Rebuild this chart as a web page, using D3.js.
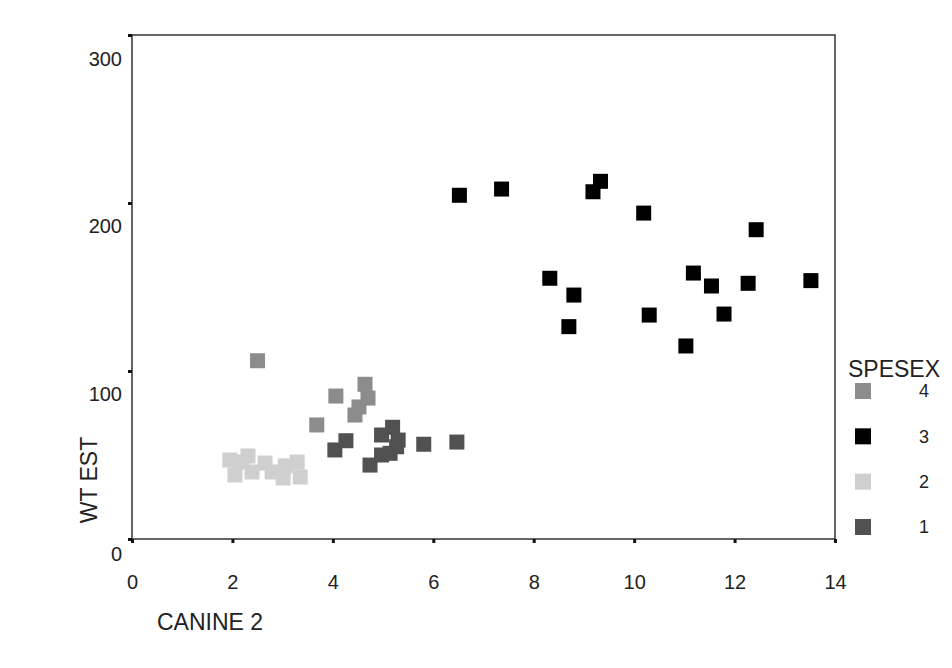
<!DOCTYPE html>
<html>
<head>
<meta charset="utf-8">
<script src="https://cdn.jsdelivr.net/npm/d3@7"></script>
<style>
  html, body { margin: 0; padding: 0; background: #fff; }
  svg text { font-family: Arial, "Liberation Sans", sans-serif; fill: #222; }
</style>
</head>
<body>
<svg id="chart" width="952" height="668"></svg>
<script>
// Scatter of estimated weight against canine size, grouped by SPESEX code.
const xTicks = [0, 2, 4, 6, 8, 10, 12, 14];
const yTicks = [0, 100, 200, 300];
const legendOrder = ["4", "3", "2", "1"];

// SPESEX 1
const canine1 = [4.04, 4.26, 4.74, 4.97, 5.19, 5.30, 5.27, 4.97, 5.14, 5.81, 6.47];
const wt1     = [53.0, 58.5, 44.0, 61.9, 66.5, 58.9, 54.9, 50.0, 51.0, 56.4, 57.7];
// SPESEX 2
const canine2 = [1.95, 2.05, 2.19, 2.31, 2.39, 2.65, 2.79, 3.01, 3.05, 3.29, 3.35];
const wt2     = [47.0, 38.1, 45.8, 49.4, 39.9, 45.2, 39.9, 36.3, 43.5, 45.8, 36.9];
// SPESEX 3
const canine3 = [6.52, 7.36, 9.33, 9.18, 10.19, 12.43, 8.32, 8.80, 8.70, 11.18, 11.54, 12.27, 13.52, 10.30, 11.79, 11.03];
const wt3     = [204.6, 208.3, 212.9, 206.7, 194.0, 184.1, 155.2, 145.2, 126.4, 158.3, 150.6, 152.2, 153.8, 133.3, 133.9, 114.9];
// SPESEX 4
const canine4 = [2.50, 4.06, 4.64, 4.70, 4.52, 4.44, 3.68];
const wt4     = [106.1, 85.1, 92.1, 83.9, 78.6, 73.8, 67.9];

const series = [
  { key: "2", xs: canine2, ys: wt2, color: "#cfcfcf" },
  { key: "4", xs: canine4, ys: wt4, color: "#8c8c8c" },
  { key: "1", xs: canine1, ys: wt1, color: "#515151" },
  { key: "3", xs: canine3, ys: wt3, color: "#000000" }
];
const colorOf = Object.fromEntries(series.map(s => [s.key, s.color]));

const svg = d3.select("#chart");
const plotLeft = 132, plotRight = 835, plotTop = 35, plotBottom = 539;
const fontStack = 'Arial, "Liberation Sans", sans-serif';

const x = d3.scaleLinear().domain([0, 14]).range([plotLeft, plotRight]);
const y = d3.scaleLinear().domain([0, 300]).range([plotBottom, plotTop]);
// value labels on the vertical axis hang below their tick marks
const yLabel = d3.scaleLinear().domain([0, 100, 300]).range([553, 393, 58]);

// plot frame
svg.append("rect")
  .attr("x", plotLeft).attr("y", plotTop)
  .attr("width", plotRight - plotLeft).attr("height", plotBottom - plotTop)
  .attr("fill", "none").attr("stroke", "#333").attr("stroke-width", 1.5);

// x axis ticks and labels
const xAxis = svg.append("g").attr("transform", `translate(0,${plotBottom})`)
  .call(d3.axisBottom(x).tickValues(xTicks).tickSize(4).tickFormat(d3.format("d")));
xAxis.select(".domain").remove();
xAxis.selectAll(".tick line").attr("stroke", "#111").attr("stroke-width", 3);
xAxis.selectAll(".tick text")
  .attr("y", 43).attr("dy", "0.35em")
  .attr("font-size", 20).attr("fill", "#222")
  .attr("font-family", fontStack);

// y axis ticks
const yAxis = svg.append("g").attr("transform", `translate(${plotLeft},0)`)
  .call(d3.axisLeft(y).tickValues(yTicks).tickSize(4).tickFormat(d3.format("d")));
yAxis.select(".domain").remove();
yAxis.selectAll(".tick line").attr("stroke", "#111").attr("stroke-width", 3);
yAxis.selectAll(".tick text")
  .attr("x", -10).attr("y", d => yLabel(d) - y(d)).attr("dy", "0.35em")
  .attr("font-size", 20).attr("fill", "#222")
  .attr("font-family", fontStack);

// axis titles
svg.append("text")
  .attr("x", 157).attr("y", 630)
  .attr("font-size", 23)
  .text("CANINE 2");
svg.append("text")
  .attr("transform", "translate(97,480) rotate(-90)")
  .attr("text-anchor", "middle")
  .attr("font-size", 23)
  .text("WT EST");

// points
const size = 15;
series.forEach(s => {
  svg.append("g").selectAll("rect")
    .data(s.xs.map((v, i) => [v, s.ys[i]]))
    .join("rect")
    .attr("x", d => x(d[0]) - size / 2)
    .attr("y", d => y(d[1]) - size / 2)
    .attr("width", size).attr("height", size)
    .attr("fill", s.color);
});

// legend
svg.append("text")
  .attr("x", 848).attr("y", 377)
  .attr("font-size", 23)
  .text("SPESEX");
const legendY = d3.scalePoint().domain(legendOrder).range([391, 527]);
const lg = svg.append("g").selectAll("g")
  .data(legendOrder).join("g")
  .attr("transform", d => `translate(0,${legendY(d)})`);
lg.append("rect")
  .attr("x", 855).attr("y", -8).attr("width", 16).attr("height", 16)
  .attr("fill", d => colorOf[d]);
lg.append("text")
  .attr("x", 924).attr("dy", "0.35em")
  .attr("text-anchor", "middle")
  .attr("font-size", 18)
  .text(d => d);
</script>
</body>
</html>
